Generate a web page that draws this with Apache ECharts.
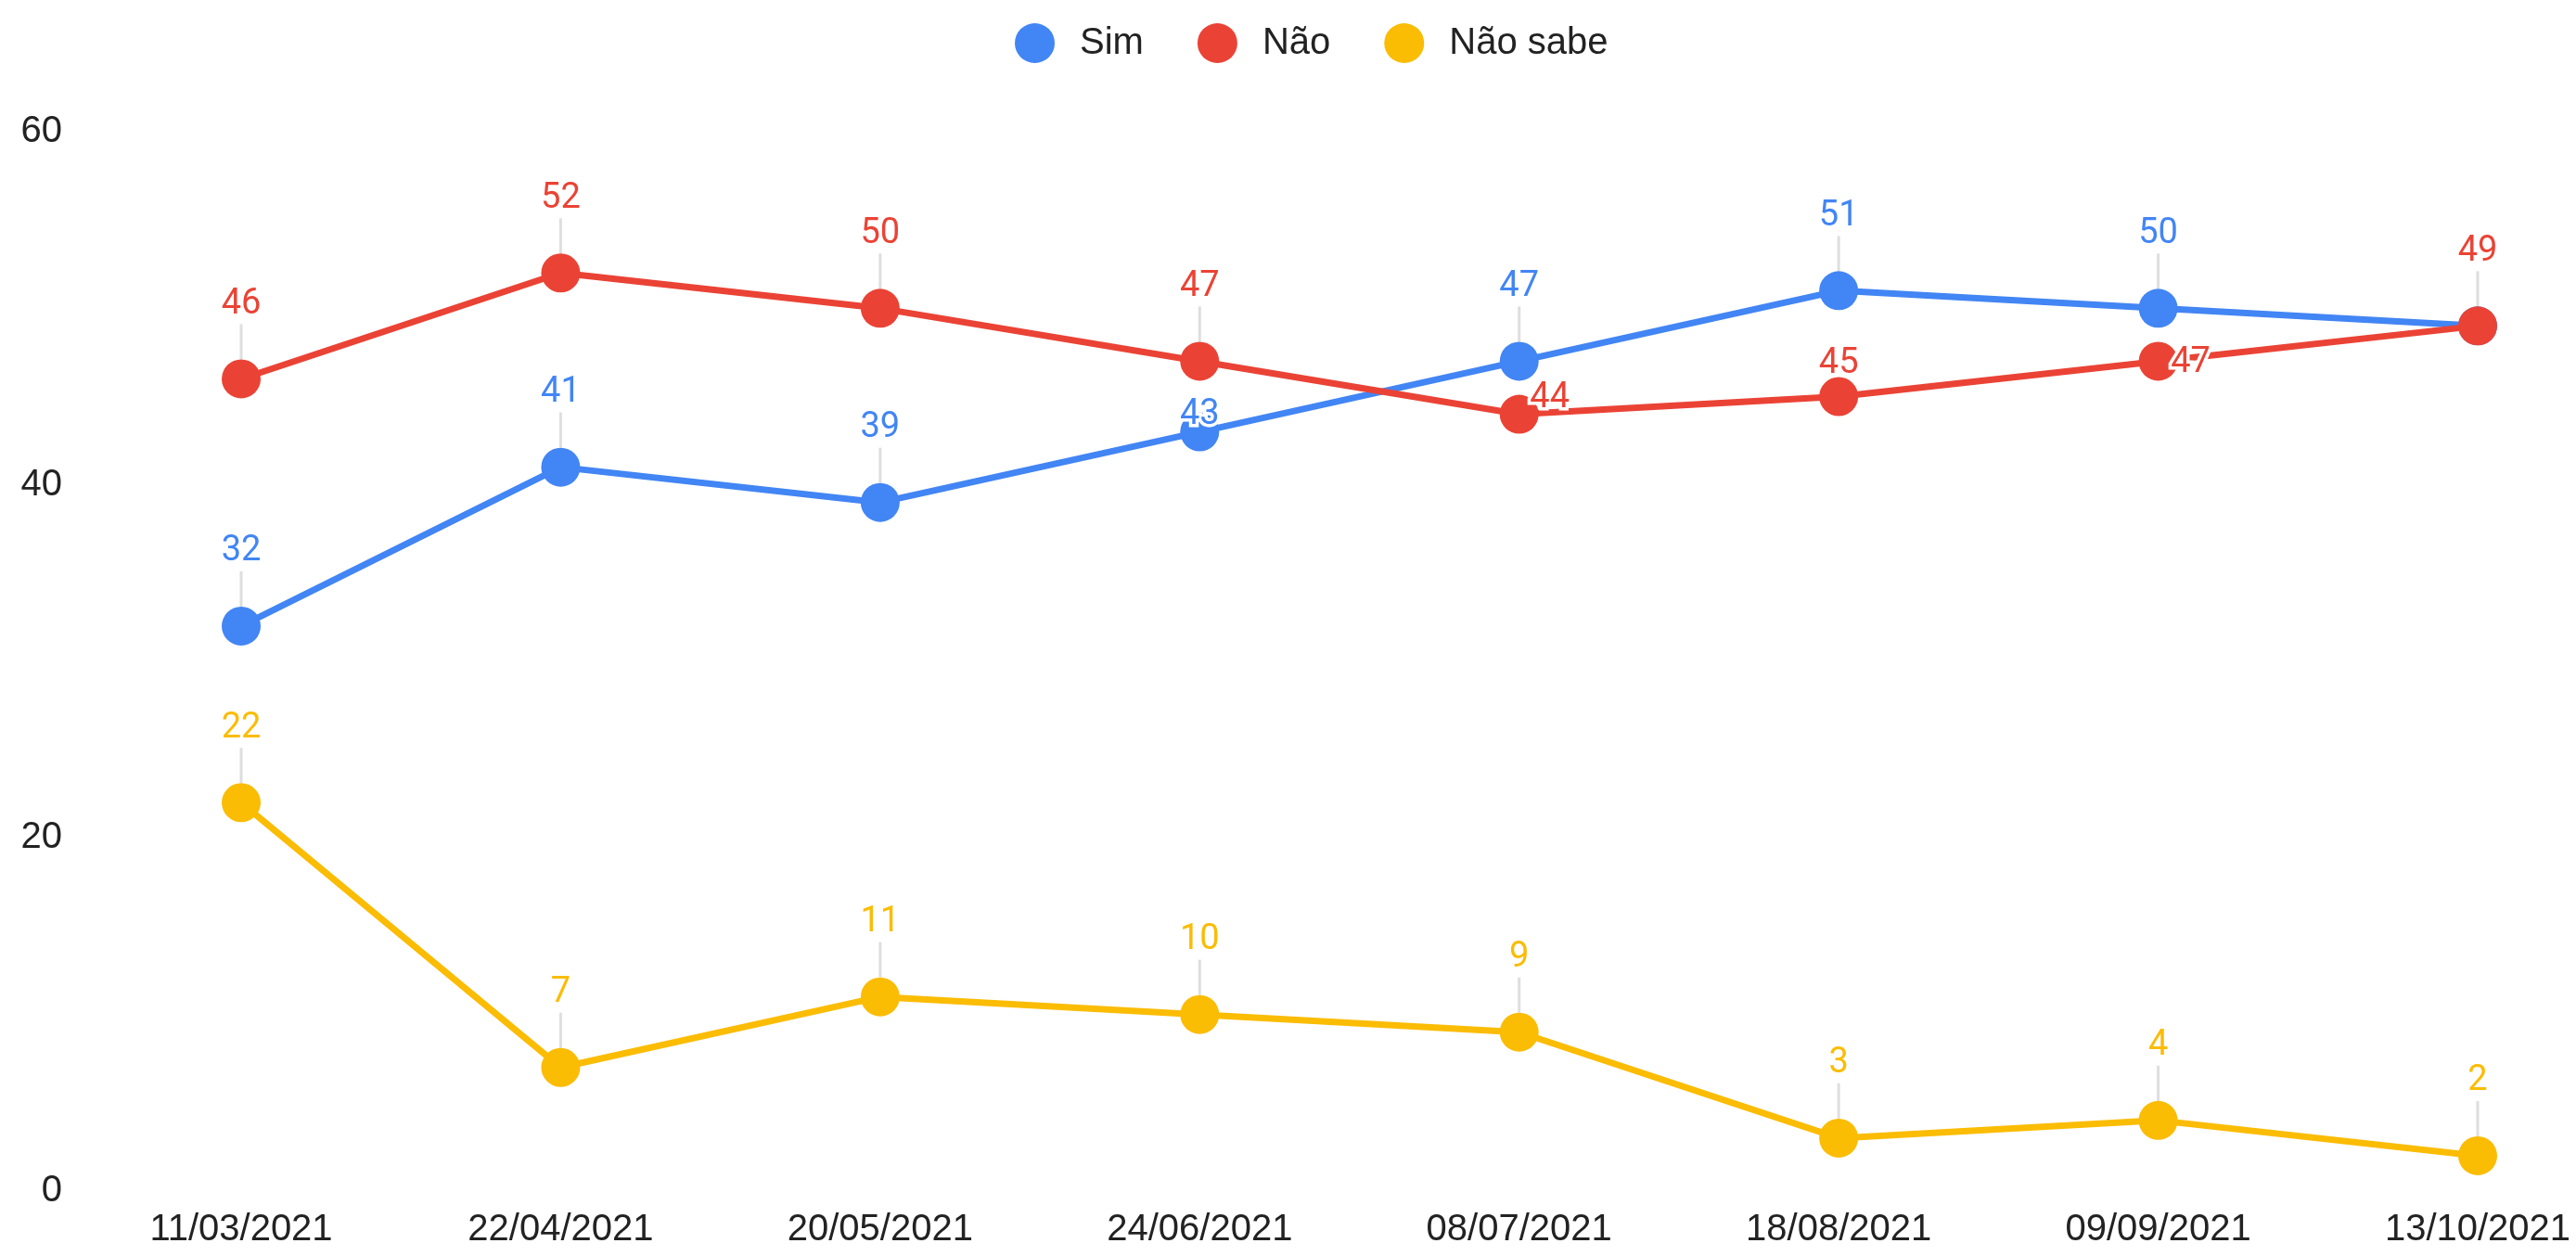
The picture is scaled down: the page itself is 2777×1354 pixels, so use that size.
<!DOCTYPE html>
<html>
<head>
<meta charset="utf-8">
<script src="https://cdn.jsdelivr.net/npm/echarts@6/dist/echarts.min.js"></script>
<style>
  html, body {margin: 0; padding: 0; background: #fff;}
  #chart {width: 2777px; height: 1354px;}
</style>
</head>
<body>
<div id="chart"></div>
<script>
// survey dates
const dates = ['11/03/2021', '22/04/2021', '20/05/2021', '24/06/2021', '08/07/2021', '18/08/2021', '09/09/2021', '13/10/2021'];
const sim = [32, 41, 39, 43, 47, 51, 50, 49];
const nao = [46, 52, 50, 47, 44, 45, 47, 49];
const naoSabe = [22, 7, 11, 10, 9, 3, 4, 2];
const yTicks = [0, 20, 40, 60];

const colors = {sim: '#4285F4', nao: '#EA4335', naoSabe: '#FBBC04'};

// labels that got pushed around because they collide (no stem for these)
const onPoint = {position: ['50%', '50%'], align: 'center', verticalAlign: 'middle'};
const moved = {
    'Sim': {3: Object.assign({offset: [0, -18]}, onPoint), 7: {show: false}},
    'Não': {
        4: Object.assign({offset: [33, -17]}, onPoint),
        5: Object.assign({offset: [0, -35]}, onPoint),
        6: Object.assign({offset: [35, 2]}, onPoint)
    }
};

const labelBase = {
    show: true,
    position: 'top',
    distance: 40,
    fontFamily: 'Roboto',
    fontSize: 38,
    textBorderColor: '#fff',
    textBorderWidth: 7
};

function lineSeries(name, values, color, z) {
    const tweaks = moved[name] || {};
    return {
        name: name,
        type: 'line',
        z: z,
        data: values.map((v, i) => tweaks[i] ? {value: v, label: tweaks[i]} : v),
        symbol: 'circle',
        symbolSize: 42,
        showAllSymbol: true,
        lineStyle: {width: 7, color: color},
        itemStyle: {color: color},
        label: Object.assign({color: color}, labelBase),
        emphasis: {disabled: true}
    };
}

// thin grey stems between point and its label
function stemSeries(name, values) {
    const tweaks = moved[name] || {};
    return {
        type: 'scatter',
        z: 1,
        silent: true,
        symbol: 'rect',
        symbolSize: [3, 38],
        symbolOffset: [0, -40],
        itemStyle: {color: '#d6d6d6'},
        data: values.map((v, i) => tweaks[i] ? '-' : v)
    };
}

const chart = echarts.init(document.getElementById('chart'));
chart.setOption({
    animation: false,
    color: [colors.sim, colors.nao, colors.naoSabe],
    legend: {
        top: 20,
        left: 1089,
        itemWidth: 43,
        itemHeight: 43,
        itemGap: 58,
        icon: 'circle',
        textStyle: {fontFamily: 'Liberation Sans, Arial', fontSize: 40, color: '#222', padding: [0, 0, 0, 22]},
        data: ['Sim', 'Não', 'Não sabe']
    },
    grid: {left: 260, right: 106, top: 142, bottom: 70},
    xAxis: {
        type: 'category',
        data: dates,
        boundaryGap: false,
        axisLine: {show: false},
        axisTick: {show: false},
        axisLabel: {fontFamily: 'Liberation Sans, Arial', fontSize: 40, color: '#222', margin: 22, interval: 0}
    },
    yAxis: {
        type: 'value',
        min: yTicks[0],
        max: yTicks[yTicks.length - 1],
        interval: yTicks[1] - yTicks[0],
        splitLine: {show: false},
        axisLine: {show: false},
        axisTick: {show: false},
        axisLabel: {fontFamily: 'Liberation Sans, Arial', fontSize: 40, color: '#222', margin: 193}
    },
    series: [
        stemSeries('Sim', sim),
        stemSeries('Não', nao),
        stemSeries('Não sabe', naoSabe),
        lineSeries('Sim', sim, colors.sim, 2),
        lineSeries('Não', nao, colors.nao, 3),
        lineSeries('Não sabe', naoSabe, colors.naoSabe, 4)
    ]
});
</script>
</body>
</html>
